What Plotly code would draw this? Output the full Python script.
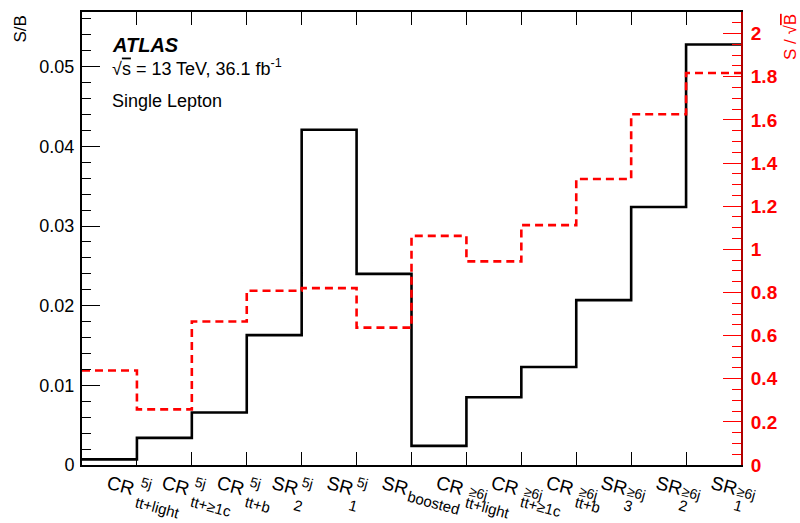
import plotly.graph_objects as go

# Region labels: main text, superscript (jet multiplicity), subscript
region_main = ["CR", "CR", "CR", "SR", "SR", "SR", "CR", "CR", "CR", "SR", "SR", "SR"]
region_sup = ["5j", "5j", "5j", "5j", "5j", "", "≥6j", "≥6j", "≥6j", "≥6j", "≥6j", "≥6j"]
region_sub = ["tt+light", "tt+≥1c", "tt+b", "2", "1", "boosted",
              "tt+light", "tt+≥1c", "tt+b", "3", "2", "1"]

# Signal-over-background per region
s_over_b = [0.0007, 0.0034, 0.0066, 0.0163, 0.0421, 0.0240,
            0.0024, 0.0085, 0.0123, 0.0207, 0.0324, 0.0528]
s_over_sqrt_b = [0.438, 0.258, 0.665, 0.808, 0.820, 0.637,
                 1.062, 0.944, 1.112, 1.326, 1.626, 1.817]

n = len(region_main)
edges = list(range(n + 1))
FONT = "Liberation Sans, Arial, Helvetica, sans-serif"
RED = "#ff0000"

fig = go.Figure()
fig.add_trace(go.Scatter(
    x=edges, y=s_over_b + [s_over_b[-1]], mode="lines",
    line=dict(color="black", width=2.6, shape="hv"),
    yaxis="y", showlegend=False, hoverinfo="skip"))
fig.add_trace(go.Scatter(
    x=edges, y=s_over_sqrt_b + [s_over_sqrt_b[-1]], mode="lines",
    line=dict(color=RED, width=2.6, shape="hv", dash="8px,5px"),
    yaxis="y2", showlegend=False, hoverinfo="skip"))

annotations = []
# bin labels, slanted under each bin
for i in range(n):
    c = i + 0.5
    annotations.append(dict(
        x=c, y=0, xref="x", yref="paper", text=region_main[i],
        xanchor="left", yanchor="top", xshift=-6, yshift=-6,
        textangle=15, showarrow=False, borderpad=0,
        font=dict(family=FONT, size=19, color="black")))
    sup = region_sup[i]
    if sup:
        if sup == "5j":
            xs = 28 if region_main[i] == "CR" else 25
            ys = -8
        else:
            xs = 27 if region_main[i] == "CR" else 20
            ys = -17
        annotations.append(dict(
            x=c, y=0, xref="x", yref="paper", text=sup,
            xanchor="left", yanchor="top", xshift=xs, yshift=ys,
            textangle=15, showarrow=False, borderpad=0,
            font=dict(family=FONT, size=14, color="black")))
    sub = region_sub[i]
    if sub.startswith("tt"):
        xs, ys = 23, -27
    elif sub == "boosted":
        xs, ys = 20, -21
    else:
        xs, ys = 17, -30
    annotations.append(dict(
        x=c, y=0, xref="x", yref="paper", text=sub,
        xanchor="left", yanchor="top", xshift=xs, yshift=ys,
        textangle=15, showarrow=False, borderpad=0,
        font=dict(family=FONT, size=15, color="black")))

# ATLAS label block
annotations += [
    dict(x=0.0425, y=0.9275, xref="paper", yref="paper", text="<b><i>ATLAS</i></b>",
         xanchor="left", yanchor="middle", showarrow=False,
         font=dict(family=FONT, size=20, color="black")),
    dict(x=0.0425, y=0.877, xref="paper", yref="paper",
         text="√<span style='text-decoration:overline'>s</span> = 13 TeV, 36.1 fb<sup>-1</sup>",
         xanchor="left", yanchor="middle", showarrow=False,
         font=dict(family=FONT, size=18, color="black")),
    dict(x=0.0425, y=0.804, xref="paper", yref="paper", text="Single Lepton",
         xanchor="left", yanchor="middle", showarrow=False,
         font=dict(family=FONT, size=18, color="black")),
]

# axis titles, aligned to the top of each axis
annotations += [
    dict(x=0, y=1, xref="paper", yref="paper", text="S/B",
         xanchor="center", yanchor="top", xshift=-62, yshift=-2, textangle=-90,
         showarrow=False, font=dict(family=FONT, size=17, color="black")),
    dict(x=1, y=1, xref="paper", yref="paper",
         text="S / √<span style='text-decoration:overline'>B</span>",
         xanchor="center", yanchor="top", xshift=49, yshift=0, textangle=-90,
         showarrow=False, font=dict(family=FONT, size=17, color=RED)),
]

fig.update_layout(
    width=800, height=523,
    margin=dict(l=82, r=59, t=10, b=58),
    paper_bgcolor="white", plot_bgcolor="white",
    font=dict(family=FONT, color="black"),
    xaxis=dict(
        range=[0, n], tickvals=list(range(1, n)), showticklabels=False,
        ticks="inside", ticklen=13, tickwidth=1, tickcolor="black",
        showline=True, linecolor="black", linewidth=2, mirror="ticks",
        showgrid=False, zeroline=False),
    yaxis=dict(
        range=[0, 0.056875], dtick=0.01, tick0=0,
        ticks="inside", ticklen=18, tickwidth=1, tickcolor="black",
        minor=dict(dtick=0.002, ticks="inside", ticklen=9, tickwidth=1, tickcolor="black"),
        showline=True, linecolor="black", linewidth=2, mirror=True,
        showgrid=False, zeroline=False, ticklabelstandoff=2,
        tickfont=dict(family=FONT, size=18, color="black")),
    yaxis2=dict(
        range=[0, 2.1], dtick=0.2, tick0=0, overlaying="y", side="right",
        ticks="inside", ticklen=18, tickwidth=1, tickcolor=RED,
        minor=dict(dtick=0.05, ticks="inside", ticklen=9, tickwidth=1, tickcolor=RED),
        showline=True, linecolor="#b00000", linewidth=2,
        showgrid=False, zeroline=False, ticklabelstandoff=4,
        tickfont=dict(family=FONT, size=19, color=RED, weight="bold")),
    annotations=annotations,
)

fig.write_html("out.html")
